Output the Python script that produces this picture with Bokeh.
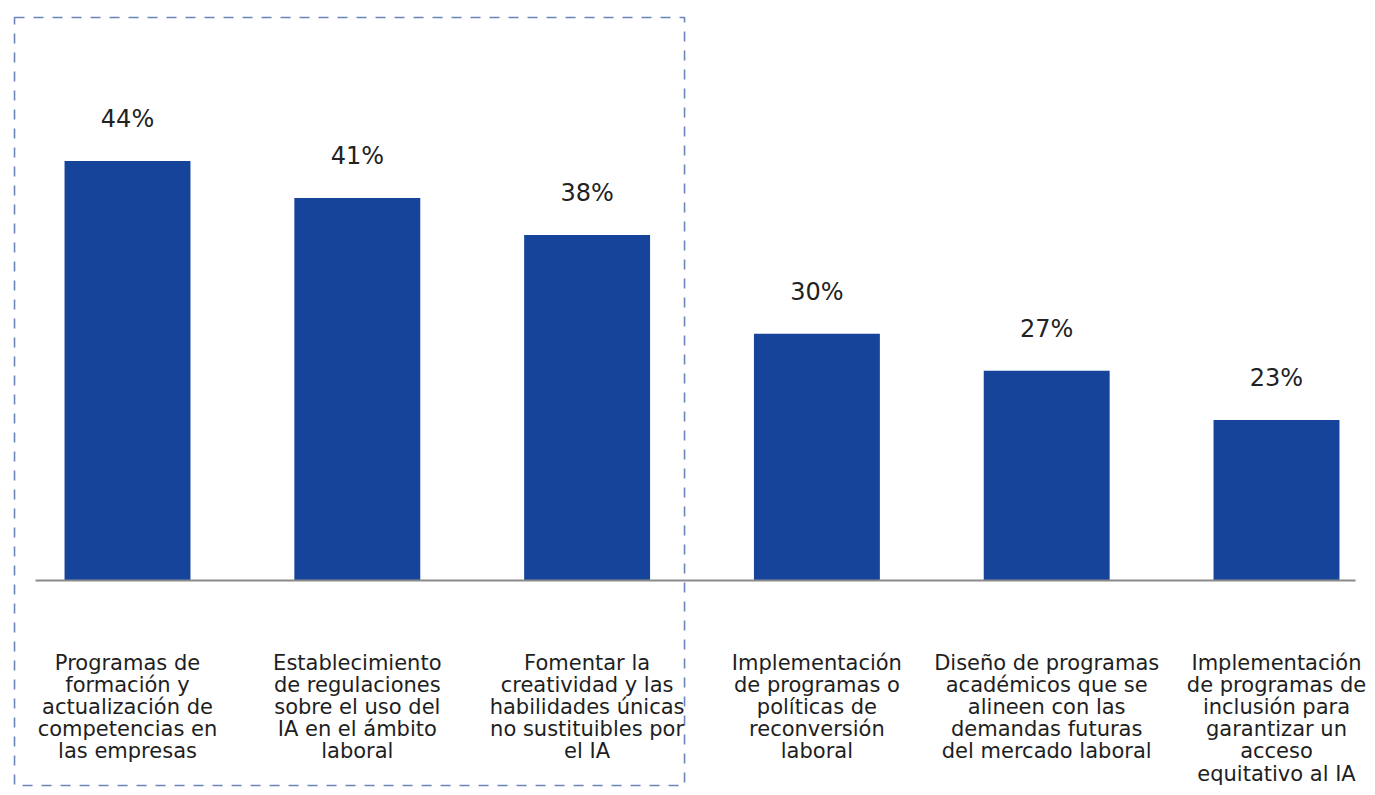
from bokeh.plotting import figure
from bokeh.models import Range1d, ColumnDataSource
from bokeh.core.properties import value
from bokeh.embed import file_html
from bokeh.resources import INLINE

# ---- data ----
categories = [
    "Programas de\nformación y\nactualización de\ncompetencias en\nlas empresas",
    "Establecimiento\nde regulaciones\nsobre el uso del\nIA en el ámbito\nlaboral",
    "Fomentar la\ncreatividad y las\nhabilidades únicas\nno sustituibles por\nel IA",
    "Implementación\nde programas o\npolíticas de\nreconversión\nlaboral",
    "Diseño de programas\nacadémicos que se\nalineen con las\ndemandas futuras\ndel mercado laboral",
    "Implementación\nde programas de\ninclusión para\ngarantizar un\nacceso\nequitativo al IA",
]
values = [44, 41, 38, 30, 27, 23]
value_labels = ["44%", "41%", "38%", "30%", "27%", "23%"]

# ---- layout / style ----
FLOOR = 10  # visual baseline of the (truncated) value axis
BAR_COLOR = "#17449B"
FONT = "DejaVu Sans"

xs = list(range(len(values)))
src = ColumnDataSource(dict(x=xs, v=values, lab=value_labels, cat=categories,
                            base=[FLOOR] * len(values)))

p = figure(width=1367, height=787,
           x_range=Range1d(-0.5527, 5.396), y_range=Range1d(-6.77, 57.0),
           x_axis_type=None, y_axis_type=None,
           toolbar_location=None, output_backend="svg",
           min_border=0, min_border_left=0, min_border_right=0,
           min_border_top=0, min_border_bottom=0)
p.grid.visible = False
p.outline_line_color = None
p.background_fill_color = "white"
p.border_fill_color = "white"

# dashed highlight box around first three categories
p.quad(left=[-0.4917], right=[2.424], top=[55.62], bottom=[-6.61],
       fill_alpha=0, line_color="#6d84b8", line_width=1.6, line_dash="10 9")

# bars
p.vbar(x="x", top="v", bottom="base", width=0.548, source=src,
       fill_color=BAR_COLOR, line_color=None)

# baseline
p.segment(x0=[-0.40], x1=[5.344], y0=[FLOOR], y1=[FLOOR],
          line_color="#8a8a8a", line_width=2)

# value labels
p.text(x="x", y="v", text="lab", source=src, y_offset=-42,
       text_align="center", text_baseline="middle",
       text_font=value(FONT), text_font_size="24px", text_color="#222222")

# category labels
p.text(x="x", y="base", text="cat", source=src, y_offset=70,
       text_align="center", text_baseline="top", text_line_height=0.925,
       text_font=value(FONT), text_font_size="21px", text_color="#1e1e1e")

open("out.html", "w").write(file_html(p, INLINE))
